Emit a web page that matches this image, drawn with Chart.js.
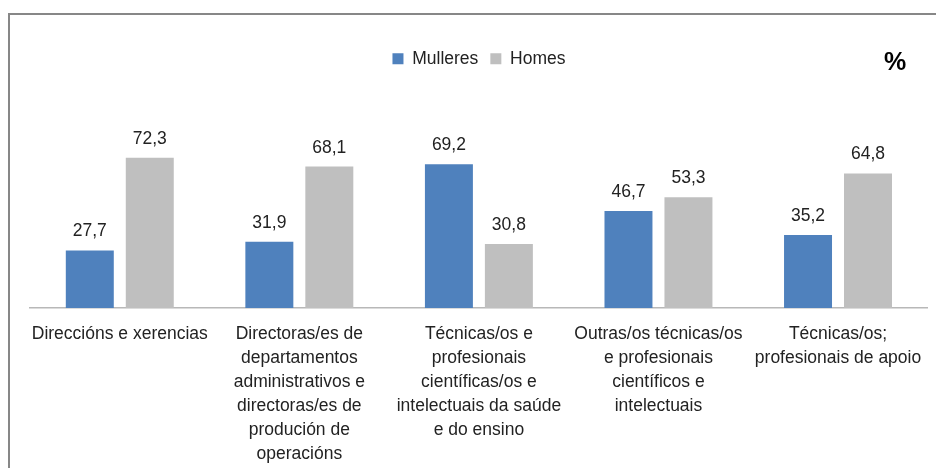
<!DOCTYPE html>
<html>
<head>
<meta charset="utf-8">
<script src="https://cdn.jsdelivr.net/npm/chart.js@4/dist/chart.umd.min.js"></script>
<style>
    body { margin: 0; background: #fff; }
    .frame {
        position: absolute; left: 8px; top: 13px; width: 940px; height: 470px;
        border-left: 2px solid #878787; border-top: 2px solid #878787;
    }
    .wrap { position: absolute; left: 0; top: 0; width: 936px; height: 468px; }
    .unit {
        position: absolute; left: 884px; top: 47px;
        font: bold 25px 'Liberation Sans', sans-serif; color: #000;
    }
</style>
</head>
<body>
<div class="frame"></div>
<div class="wrap"><canvas id="myBarChart"></canvas></div>
<div class="unit">%</div>
<script>
const categories = [
    ['Direccións e xerencias'],
    ['Directoras/es de', 'departamentos', 'administrativos e', 'directoras/es de', 'produción de', 'operacións'],
    ['Técnicas/os e', 'profesionais', 'científicas/os e', 'intelectuais da saúde', 'e do ensino'],
    ['Outras/os técnicas/os', 'e profesionais', 'científicos e', 'intelectuais'],
    ['Técnicas/os;', 'profesionais de apoio']
]
const mulleres = [27.7, 31.9, 69.2, 46.7, 35.2]
const homes = [72.3, 68.1, 30.8, 53.3, 64.8]
const seriesNames = ['Mulleres', 'Homes']

const textColor = '#222'
const fontFamily = "'Liberation Sans', sans-serif"

// value labels above each bar
const barLabels = {
    id: 'barLabels',
    afterDatasetsDraw(chart) {
        const ctx = chart.ctx
        ctx.save()
        ctx.font = '17.5px ' + fontFamily
        ctx.fillStyle = textColor
        ctx.textAlign = 'center'
        ctx.textBaseline = 'alphabetic'
        chart.data.datasets.forEach((ds, i) => {
            chart.getDatasetMeta(i).data.forEach((bar, j) => {
                ctx.fillText(ds.data[j].toFixed(1).replace('.', ','), bar.x, bar.y - 14)
            })
        })
        ctx.restore()
    }
}

const config = {
    type: 'bar',
    data: {
        labels: categories,
        datasets: [
            {
                label: seriesNames[0],
                data: mulleres,
                backgroundColor: '#4f81bd',
                categoryPercentage: 0.668,
                barPercentage: 0.8
            },
            {
                label: seriesNames[1],
                data: homes,
                backgroundColor: '#bfbfbf',
                categoryPercentage: 0.668,
                barPercentage: 0.8
            }
        ]
    },
    options: {
        responsive: true,
        maintainAspectRatio: false,
        animation: false,
        layout: {
            padding: { top: 38, left: 30, right: 8, bottom: 0 }
        },
        plugins: {
            legend: {
                position: 'top',
                labels: {
                    boxWidth: 11,
                    boxHeight: 11,
                    padding: 12,
                    color: textColor,
                    font: { family: fontFamily, size: 17.5 }
                }
            },
            tooltip: { enabled: false }
        },
        scales: {
            x: {
                grid: { display: false, drawTicks: false },
                border: { display: true, color: '#b8b8b8', width: 1.5 },
                ticks: {
                    color: textColor,
                    autoSkip: false,
                    maxRotation: 0,
                    minRotation: 0,
                    padding: 14,
                    font: { family: fontFamily, size: 17.5, lineHeight: '24px' }
                },
                afterFit(scale) { scale.height = 160 }
            },
            y: {
                display: false,
                min: 0,
                max: 111
            }
        }
    },
    plugins: [barLabels]
}

new Chart(document.querySelector('#myBarChart'), config)
</script>
</body>
</html>
